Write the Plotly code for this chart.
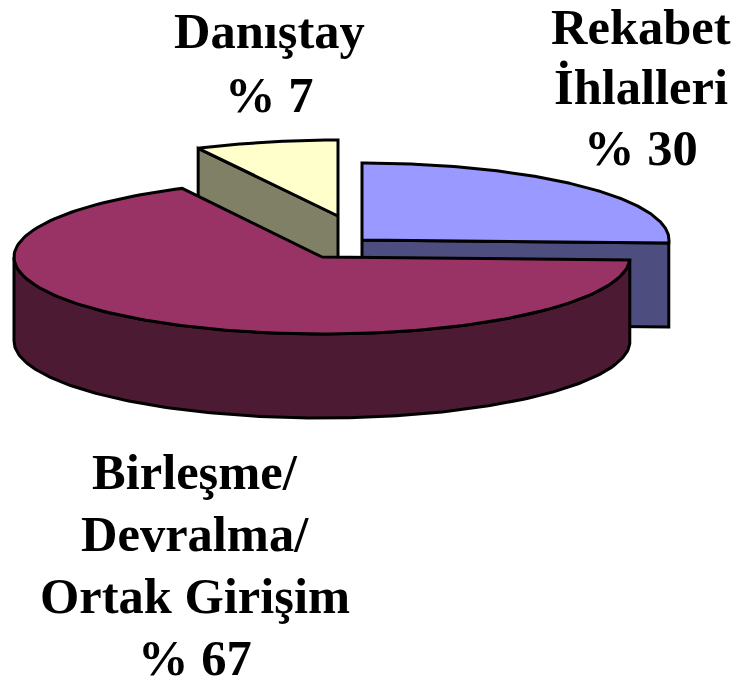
import numpy as np
import plotly.graph_objects as go

# Slice sizes as drawn (percent of the circle)
categories = ["Rekabet İhlalleri", "Birleşme/Devralma/Ortak Girişim", "Danıştay"]
drawn_share = [25.6, 66.9, 7.5]
label_lines = [
    ["Rekabet", "İhlalleri", "% 30"],
    ["Birleşme/", "Devralma/", "Ortak Girişim", "% 67"],
    ["Danıştay", "% 7"],
]
label_x = [641, 195, 269]
label_y = [[27, 87, 148], [472, 534, 596, 658], [31, 95]]

top_colors = ["#9999FF", "#993366", "#FFFFCC"]
side_colors = ["#4D4D80", "#4D1A33", "#808066"]
centers = [(362, 240), (322, 257), (338, 216)]
radius_x = [307, 308, 308]
radius_y = [77, 77, 76]
depth = 84
outline = dict(color="black", width=3)

shares = np.array(drawn_share)
ends = np.cumsum(shares) / shares.sum() * 2 * np.pi
starts = np.r_[0, ends[:-1]]


def rim(i, a0, a1):
    a = np.linspace(a0, a1, 160)
    cx, cy = centers[i]
    return cx + radius_x[i] * np.sin(a), cy - radius_y[i] * np.cos(a)


def polygon(fig, x, y, color):
    fig.add_trace(go.Scatter(x=list(x), y=list(y), mode="lines", fill="toself",
                             fillcolor=color, line=outline, hoverinfo="skip",
                             showlegend=False))


def draw_slice(fig, i):
    cx, cy = centers[i]
    a0, a1 = starts[i], ends[i]
    # Visible cut faces
    if i == 2:  # cut face running back-left from the centre
        ex, ey = rim(i, a0, a0)
        polygon(fig, [cx, ex[0], ex[0], cx, cx], [cy, ey[0], ey[0] + depth, cy + depth, cy], side_colors[i])
    if i == 0:  # cut face running right from the centre
        ex, ey = rim(i, a1, a1)
        polygon(fig, [cx, ex[0], ex[0], cx, cx], [cy, ey[0], ey[0] + depth, cy + depth, cy], side_colors[i])
    # Outer wall on the front half of the rim
    if i == 1:
        wx, wy = rim(i, a0, 1.5 * np.pi)
        polygon(fig, np.r_[wx, wx[::-1], wx[0]], np.r_[wy, wy[::-1] + depth, wy[0]], side_colors[i])
    # Top face
    x, y = rim(i, a0, a1)
    polygon(fig, np.r_[cx, x, cx], np.r_[cy, y, cy], top_colors[i])


fig = go.Figure()
for i in [2, 0, 1]:
    draw_slice(fig, i)

for xp, lines, ys in zip(label_x, label_lines, label_y):
    for text, yp in zip(lines, ys):
        fig.add_annotation(x=xp, y=yp, text="<b>" + text + "</b>", showarrow=False,
                           xanchor="center", yanchor="middle",
                           font=dict(family="Liberation Serif", size=50.5, color="black"))

fig.update_layout(
    width=738, height=685, margin=dict(l=0, r=0, t=0, b=0),
    paper_bgcolor="white", plot_bgcolor="white", showlegend=False,
    xaxis=dict(range=[0, 738], visible=False, fixedrange=True),
    yaxis=dict(range=[685, 0], visible=False, fixedrange=True),
)
fig.write_html("out.html", config={"displayModeBar": False},
               post_script="document.body.style.margin='0';document.body.style.overflow='hidden';")
